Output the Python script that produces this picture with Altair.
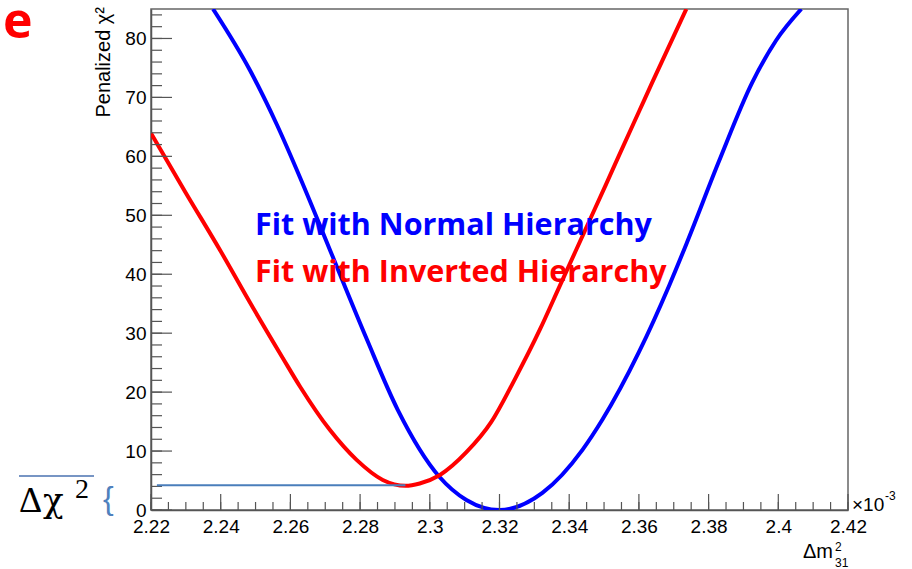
import altair as alt
import pandas as pd

# ---- data ----
nh_x = [2.2378, 2.2484, 2.2561, 2.2627, 2.2693, 2.2733, 2.2819, 2.2908, 2.3028, 2.3105,
        2.3200, 2.3323, 2.3438, 2.3495, 2.3601, 2.3687, 2.3736, 2.3830, 2.3925, 2.3994, 2.4066]
nh_y = [85.0, 74.6, 65.4, 56.5, 47.1, 41.3, 29.0, 17.0, 5.6, 1.7,
        0.0, 2.9, 10.2, 15.3, 26.9, 38.1, 45.1, 59.2, 72.5, 79.7, 85.0]

ih_x = [2.2200, 2.2300, 2.2400, 2.2484, 2.2578, 2.2627, 2.2713, 2.2790, 2.2865, 2.2930,
        2.2971, 2.3028, 2.3105, 2.3176, 2.3245, 2.3315, 2.3372, 2.3439, 2.3506, 2.3544,
        2.3601, 2.3638, 2.3736]
ih_y = [63.9, 53.8, 43.9, 35.2, 25.8, 21.0, 13.6, 8.5, 5.1, 4.1,
        4.5, 5.9, 9.8, 14.9, 22.3, 30.5, 37.9, 46.6, 55.3, 60.3,
        67.7, 72.5, 85.0]

x_major = [2.22, 2.24, 2.26, 2.28, 2.30, 2.32, 2.34, 2.36, 2.38, 2.40, 2.42]
y_major = [0, 10, 20, 30, 40, 50, 60, 70, 80]
x_minor = [round(2.22 + 0.005 * i, 3) for i in range(41)]
y_minor = list(range(0, 86, 2))

delta_x = [2.2217, 2.2930]
delta_y = [4.2, 4.2]

series_names = ["Fit with Normal Hierarchy", "Fit with Inverted Hierarchy"]
series_colors = ["#0000ff", "#ff0000"]

# ---- layout ----
W, H = 697, 501
PAD = {"left": 151, "top": 9, "right": 64, "bottom": 59}
AXC = "#555555"
SANS = "Liberation Sans"

xs = alt.Scale(domain=[2.22, 2.42], nice=False, zero=False)
ys = alt.Scale(domain=[0, 85], nice=False, zero=False)

x_axis = alt.Axis(values=x_major, format=".3~g", ticks=False, grid=False, title=None,
                  labelFontSize=19, labelFont=SANS, labelColor="black", labelPadding=7,
                  labelFlush=False, labelOverlap=False, domainColor=AXC, domainWidth=1.5)
y_axis = alt.Axis(values=y_major, format="d", ticks=False, grid=False, title=None,
                  labelFontSize=19, labelFont=SANS, labelColor="black", labelPadding=5,
                  labelOverlap=False, domainColor=AXC, domainWidth=1.5)

curves = pd.DataFrame({
    "x": nh_x + ih_x,
    "y": nh_y + ih_y,
    "s": [series_names[0]] * len(nh_x) + [series_names[1]] * len(ih_x),
})

lines = alt.Chart(curves).mark_line(strokeWidth=4, interpolate="monotone", clip=True).encode(
    x=alt.X("x:Q", scale=xs, axis=x_axis),
    y=alt.Y("y:Q", scale=ys, axis=y_axis),
    color=alt.Color("s:N", scale=alt.Scale(domain=series_names, range=series_colors), legend=None),
)

delta_df = pd.DataFrame({"x": [delta_x[0]], "x2": [delta_x[1]], "y": [delta_y[0]]})
delta_rule = alt.Chart(delta_df).mark_rule(color="#4a7ebb", strokeWidth=2).encode(
    x=alt.X("x:Q", scale=xs, axis=x_axis), x2="x2:Q", y=alt.Y("y:Q", scale=ys, axis=y_axis))


def yticks(vals, length):
    return alt.Chart(pd.DataFrame({"v": vals})).mark_rule(color=AXC, strokeWidth=1.2).encode(
        y=alt.Y("v:Q", scale=ys, axis=y_axis), x=alt.value(0), x2=alt.value(length))


def xticks(vals, length):
    return alt.Chart(pd.DataFrame({"v": vals})).mark_rule(color=AXC, strokeWidth=1.2).encode(
        x=alt.X("v:Q", scale=xs, axis=x_axis), y=alt.value(H), y2=alt.value(H - length))


def label(text, x, y, size, color="black", font=SANS, weight="normal", align="left",
          baseline="alphabetic", angle=0):
    return alt.Chart(pd.DataFrame({"t": [text]})).mark_text(
        fontSize=size, color=color, font=font, fontWeight=weight, align=align,
        baseline=baseline, angle=angle).encode(x=alt.value(x), y=alt.value(y), text="t:N")


deco_over = alt.Chart(pd.DataFrame({"a": [0]})).mark_rule(color="#4a72b0", strokeWidth=1.5).encode(
    x=alt.value(-132), x2=alt.value(-57), y=alt.value(467))

layers = [
    lines,
    yticks(y_minor, 11), yticks(y_major, 21), xticks(x_minor, 8), xticks(x_major, 16),
    delta_rule,
    label(series_names[0], 104, 226, 30.5, color="#0000ff", font="Open Sans", weight="bold"),
    label(series_names[1], 104, 273, 30.5, color="#ff0000", font="Open Sans", weight="bold"),
    label("e", -148, 29, 50, color="#ff0000", font="Open Sans", weight="bold"),
    label("Penalized χ²", -41, -2, 20, align="right", angle=270),
    label("×10", 701, 502, 19),
    label("-3", 734, 491, 12),
    label("Δm", 682, 549, 20, align="right"),
    label("2", 684, 542, 12),
    label("31", 684, 558, 12),
    label("Δ", -132, 503, 36, font="Liberation Serif"),
    label("χ", -108, 503, 34, font="DejaVu Serif"),
    label("2", -76, 489, 28, font="Liberation Serif"),
    label("{", -48, 500, 32, color="#4f81bd"),
    deco_over,
]

chart = alt.layer(*layers).properties(
    width=W, height=H, padding=PAD, autosize=alt.AutoSizeParams(type="none"),
    background="white",
).configure_view(stroke="#666666", strokeWidth=1.5)

chart.save("out.html", embed_options={"renderer": "svg", "actions": False})
